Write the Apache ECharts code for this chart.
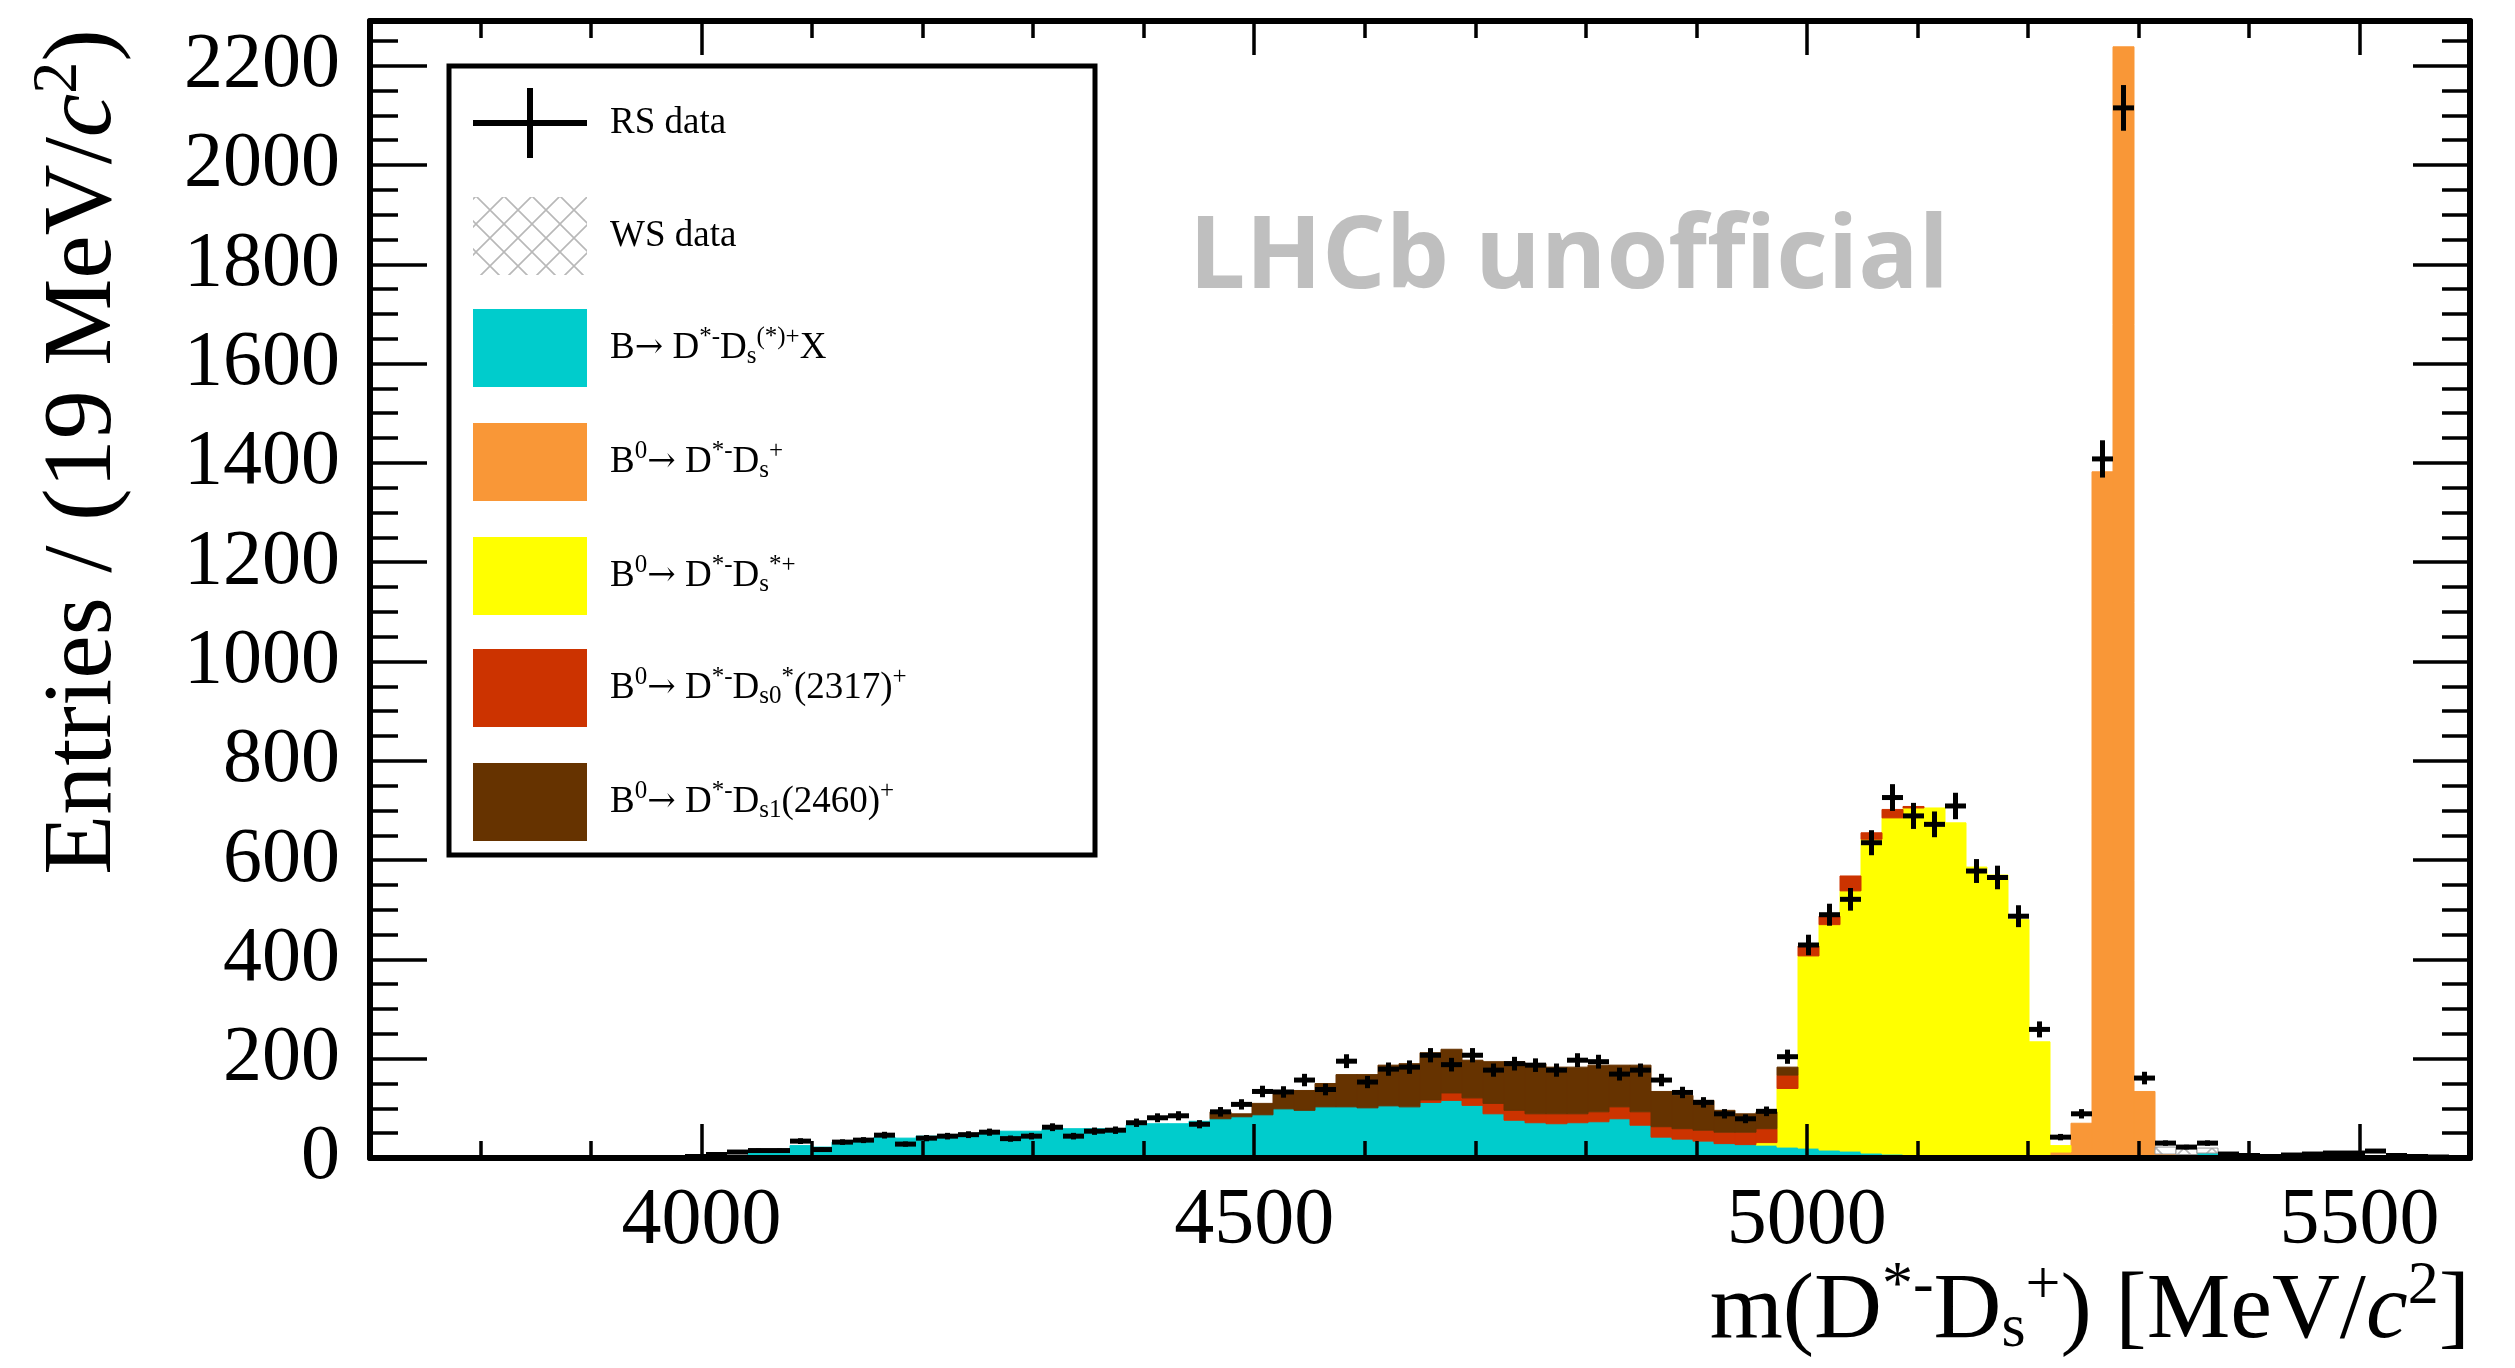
<!DOCTYPE html>
<html>
<head>
<meta charset="utf-8">
<title>m(D*- Ds+) mass spectrum</title>
<script src="https://cdn.jsdelivr.net/npm/echarts@6/dist/echarts.min.js"></script>
<style>
html,body{margin:0;padding:0;background:#fff;}
#chart{width:2515px;height:1368px;}
</style>
</head>
<body>
<div id="chart"></div>
<script>
// binning: 100 bins of 19 MeV from 3700 to 5600
var binLow = 3700, binWidth = 19, nBins = 100;
var yMax = 2290;

var xTickLabels = [4000, 4500, 5000, 5500];
var yTickLabels = [0, 200, 400, 600, 800, 1000, 1200, 1400, 1600, 1800, 2000, 2200];

// RS data, entries per bin
var rsData = [
  0, 0, 0, 0, 0, 0, 0, 0, 0, 0,
  0, 0, 0, 0, 0, 3, 7, 12, 15, 15,
  34, 17, 32, 36, 46, 28, 40, 44, 47, 52,
  39, 44, 62, 44, 54, 56, 71, 81, 85, 68,
  93, 108, 134, 133, 157, 138, 195, 153, 179, 183,
  207, 188, 207, 177, 190, 187, 177, 197, 194, 169,
  177, 157, 132, 112, 89, 79, 94, 204, 429, 490,
  521, 635, 726, 689, 672, 709, 578, 565, 487, 259,
  42, 89, 1408, 2115, 161, 30, 22, 30, 8, 5,
  3, 6, 8, 10, 10, 14, 5, 3, 2, 0
];
// B -> D*- Ds(*)+ X
var cyanBkg = [
  0, 0, 0, 0, 0, 0, 0, 0, 0, 0,
  0, 0, 0, 0, 0, 0, 0, 0, 9, 9,
  25, 22, 32, 35, 42, 40, 44, 44, 47, 52,
  54, 54, 58, 59, 59, 59, 66, 69, 69, 74,
  79, 83, 87, 99, 96, 103, 103, 101, 105, 103,
  112, 116, 106, 89, 76, 71, 69, 71, 73, 79,
  66, 42, 38, 34, 29, 27, 26, 22, 20, 16,
  14, 10, 8, 5, 3, 2, 1, 0, 0, 0,
  0, 0, 0, 0, 0, 0, 5, 10, 0, 0,
  0, 0, 0, 0, 0, 0, 0, 0, 0, 0
];
// B0 -> D*- Ds+
var orangeSig = [
  0, 0, 0, 0, 0, 0, 0, 0, 0, 0,
  0, 0, 0, 0, 0, 0, 0, 0, 0, 0,
  0, 0, 0, 0, 0, 0, 0, 0, 0, 0,
  0, 0, 0, 0, 0, 0, 0, 0, 0, 0,
  0, 0, 0, 0, 0, 0, 0, 0, 0, 0,
  0, 0, 0, 0, 0, 0, 0, 0, 0, 0,
  0, 0, 0, 0, 0, 0, 0, 0, 0, 0,
  0, 0, 0, 0, 0, 0, 0, 0, 0, 0,
  12, 70, 1382, 2238, 134, 8, 2, 0, 0, 0,
  0, 0, 0, 0, 0, 0, 0, 0, 0, 0
];
// B0 -> D*- Ds*+
var yellowBkg = [
  0, 0, 0, 0, 0, 0, 0, 0, 0, 0,
  0, 0, 0, 0, 0, 0, 0, 0, 0, 0,
  0, 0, 0, 0, 0, 0, 0, 0, 0, 0,
  0, 0, 0, 0, 0, 0, 0, 0, 0, 0,
  0, 0, 0, 0, 0, 0, 0, 0, 0, 0,
  0, 0, 0, 0, 0, 0, 0, 0, 0, 0,
  0, 0, 0, 0, 0, 0, 5, 118, 387, 454,
  524, 632, 677, 700, 702, 673, 585, 570, 480, 234,
  13, 0, 0, 0, 0, 0, 0, 0, 0, 0,
  0, 0, 0, 0, 0, 0, 0, 0, 0, 0
];
// B0 -> D*- Ds0*(2317)+
var redBkg = [
  0, 0, 0, 0, 0, 0, 0, 0, 0, 0,
  0, 0, 0, 0, 0, 0, 0, 0, 0, 0,
  0, 0, 0, 0, 0, 0, 0, 0, 0, 0,
  0, 0, 0, 0, 0, 0, 0, 0, 0, 0,
  0, 0, 0, 0, 0, 0, 0, 0, 0, 0,
  5, 15, 15, 21, 20, 18, 20, 18, 20, 24,
  27, 21, 21, 22, 23, 25, 28, 27, 20, 17,
  30, 13, 17, 3, 0, 0, 0, 0, 0, 0,
  0, 0, 0, 0, 0, 0, 0, 0, 0, 0,
  0, 0, 0, 0, 0, 0, 0, 0, 0, 0
];
// B0 -> D*- Ds1(2460)+
var brownBkg = [
  0, 0, 0, 0, 0, 0, 0, 0, 0, 0,
  0, 0, 0, 0, 0, 0, 0, 0, 0, 0,
  0, 0, 0, 0, 0, 0, 0, 0, 0, 0,
  0, 0, 0, 0, 0, 0, 0, 0, 0, 0,
  14, 6, 23, 34, 40, 47, 65, 67, 82, 87,
  95, 88, 76, 84, 98, 101, 94, 94, 94, 84,
  94, 71, 67, 60, 44, 37, 34, 16, 0, 0,
  0, 0, 0, 0, 0, 0, 0, 0, 0, 0,
  0, 0, 0, 0, 0, 0, 0, 0, 0, 0,
  0, 0, 0, 0, 0, 0, 0, 0, 0, 0
];
// WS data
var wsData = [
  0, 0, 0, 0, 0, 0, 0, 0, 0, 0,
  0, 0, 0, 0, 0, 0, 0, 0, 0, 0,
  0, 0, 0, 0, 0, 0, 0, 0, 0, 0,
  0, 0, 0, 0, 0, 0, 0, 0, 0, 0,
  0, 0, 0, 0, 0, 0, 0, 0, 0, 0,
  0, 0, 0, 0, 0, 0, 0, 0, 0, 0,
  0, 0, 0, 0, 0, 0, 0, 0, 0, 0,
  0, 0, 0, 0, 0, 0, 0, 0, 0, 0,
  0, 0, 0, 0, 0, 14, 12, 10, 4, 0,
  0, 0, 0, 0, 0, 0, 0, 0, 0, 0
];

var legendLabels = [
  'RS data',
  'WS data',
  'B{ar|→} D{sup|*-}D{sub|s}{sup|(*)+}X',
  'B{sup|0}{ar|→} D{sup|*-}D{sub|s}{sup|+}',
  'B{sup|0}{ar|→} D{sup|*-}D{sub|s}{sup|*+}',
  'B{sup|0}{ar|→} D{sup|*-}D{sub|s0}{sup|*}(2317){sup|+}',
  'B{sup|0}{ar|→} D{sup|*-}D{sub|s1}(2460){sup|+}'
];

var FONT = '"Liberation Serif", "Times New Roman", serif';
var colCyan = '#00CCCC', colOrange = '#F99737', colYellow = '#FFFF00',
    colRed = '#CC3300', colBrown = '#663300';

//crosshatch pattern for the WS component
function makeHatch(size){
  var c = document.createElement('canvas');
  c.width = size; c.height = size;
  var g = c.getContext('2d');
  g.fillStyle = '#fff';
  g.fillRect(0, 0, size, size);
  g.strokeStyle = '#b8b8b8';
  g.lineWidth = 1.6;
  g.beginPath();
  g.moveTo(0, 0); g.lineTo(size, size);
  g.moveTo(size, 0); g.lineTo(0, size);
  g.stroke();
  return c;
}
var hatchFill = {image: makeHatch(28), repeat: 'repeat'};

// stacked histogram pieces [xlow, xhigh, ybase, ytop]
var stackBase = [];
for (var i = 0; i < nBins; i++) stackBase.push(0);
function stackItems(values){
  var items = [];
  for (var i = 0; i < values.length; i++) {
    var x0 = binLow + i * binWidth;
    items.push([x0, x0 + binWidth, stackBase[i], stackBase[i] + values[i]]);
    stackBase[i] += values[i];
  }
  return items;
}
function dataItems(values){
  var items = [];
  for (var i = 0; i < values.length; i++) {
    var x0 = binLow + i * binWidth;
    items.push([x0, x0 + binWidth, values[i], Math.sqrt(values[i])]);
  }
  return items;
}

function renderBin(params, api){
  var y0 = api.value(2), y1 = api.value(3);
  if (!(y1 > y0)) return null;
  var a = api.coord([api.value(0), y1]);
  var b = api.coord([api.value(1), y0]);
  var cs = params.coordSys;
  var shape = echarts.graphic.clipRectByRect(
    {x: a[0], y: a[1], width: b[0] - a[0], height: b[1] - a[1]},
    {x: cs.x, y: cs.y, width: cs.width, height: cs.height});
  if (!shape) return null;
  var fill = api.visual('color');
  var style = {fill: fill, stroke: fill, lineWidth: 1};
  if (params.seriesName === 'WS data') style = {fill: hatchFill, stroke: '#999', lineWidth: 1};
  return {type: 'rect', shape: shape, style: style};
}

function renderData(params, api){
  var x0 = api.value(0), x1 = api.value(1), y = api.value(2), err = api.value(3);
  var xc = (x0 + x1) / 2;
  var l = api.coord([x0, y]), r = api.coord([x1, y]);
  var t = api.coord([xc, y + err]), b = api.coord([xc, Math.max(0, y - err)]);
  var st = {stroke: '#000', lineWidth: 5};
  return {type: 'group', children: [
    {type: 'line', shape: {x1: l[0], y1: l[1], x2: r[0], y2: r[1]}, style: st},
    {type: 'line', shape: {x1: t[0], y1: t[1], x2: b[0], y2: b[1]}, style: st}
  ]};
}

function histSeries(name, color, values){
  return {
    name: name, type: 'custom', renderItem: renderBin,
    itemStyle: {color: color},
    encode: {x: [0, 1], y: [2, 3]},
    data: stackItems(values)
  };
}

var xMinorTicks = [], yMinorTicks = [];
for (var v = binLow + 100; v < binLow + nBins * binWidth; v += 100) {
  if (v % 500 !== 0) xMinorTicks.push(v);
}
for (var w = 50; w < yMax; w += 50) {
  if (w % 200 !== 0) yMinorTicks.push(w);
}

function makeAxis(dim, pos, ticks, len, withLine, labels){
  return {
    type: 'value', position: pos, z: 10,
    min: dim === 'x' ? binLow : 0,
    max: dim === 'x' ? binLow + nBins * binWidth : yMax,
    axisLine: {show: withLine, onZero: false, lineStyle: {color: '#000', width: 6}},
    axisTick: {show: true, inside: true, length: len, customValues: ticks,
               lineStyle: {color: '#000', width: 3.5}},
    axisLabel: labels ? {
      show: true, customValues: labels, color: '#000', fontFamily: FONT,
      fontSize: dim === 'x' ? 80 : 78, margin: dim === 'x' ? 24 : 30,
      formatter: function(val){ return String(val); }
    } : {show: false},
    splitLine: {show: false}
  };
}

var supStyle = {fontFamily: FONT, fontSize: 25, fill: '#000', padding: [0, 0, 22, 0]};
var subStyle = {fontFamily: FONT, fontSize: 25, fill: '#000', padding: [16, 0, 0, 0]};
var legendRich = {
  sup: supStyle, sub: subStyle,
  ar: {fontFamily: '"DejaVu Serif", serif', fontSize: 34, fill: '#000'}
};

function legendText(label, yc){
  return {
    type: 'text', x: 610, y: yc, z: 20,
    style: {text: label, fontFamily: FONT, fontSize: 37, fill: '#000',
            align: 'left', verticalAlign: 'middle', textAlign: 'left', textVerticalAlign: 'middle',
            rich: legendRich}
  };
}
function legendSwatch(fill, yc){
  return {type: 'rect', z: 20, shape: {x: 473, y: yc - 39, width: 114, height: 78}, style: {fill: fill}};
}

var legendY = [123, 236, 348, 462, 576, 688, 802];
var legendFills = [null, hatchFill, colCyan, colOrange, colYellow, colRed, colBrown];

var graphicEls = [
  {type: 'rect', z: 19, shape: {x: 449, y: 66, width: 646, height: 789},
   style: {fill: '#fff', stroke: '#000', lineWidth: 5}},
  {type: 'line', z: 20, shape: {x1: 473, y1: legendY[0], x2: 587, y2: legendY[0]},
   style: {stroke: '#000', lineWidth: 6}},
  {type: 'line', z: 20, shape: {x1: 530, y1: legendY[0] - 35, x2: 530, y2: legendY[0] + 35},
   style: {stroke: '#000', lineWidth: 6}},
  {type: 'text', x: 1189, y: 260, z: 20,
   style: {text: 'LHCb unofficial', fontFamily: '"Open Sans", "Noto Sans", sans-serif',
           fontWeight: 'bold', fontSize: 100, fill: '#bfbfbf',
           align: 'left', verticalAlign: 'middle', textAlign: 'left', textVerticalAlign: 'middle'}},
  {type: 'text', x: 84, y: 29, rotation: Math.PI / 2, z: 20,
   style: {text: 'Entries / (19 MeV/{it|c}{sup|2})', fontFamily: FONT, fontSize: 98, fill: '#000',
           align: 'right', verticalAlign: 'middle', textAlign: 'right', textVerticalAlign: 'middle',
           rich: {
             it: {fontFamily: FONT, fontSize: 98, fontStyle: 'italic', fill: '#000'},
             sup: {fontFamily: FONT, fontSize: 64, fill: '#000', padding: [0, 0, 50, 0]}
           }}},
  {type: 'text', x: 2470, y: 1312, z: 20,
   style: {text: 'm(D{sup|*-}D{sub|s}{sup|+}) [MeV/{it|c}{sup|2}]', fontFamily: FONT, fontSize: 94,
           fill: '#000', align: 'right', verticalAlign: 'middle', textAlign: 'right', textVerticalAlign: 'middle',
           rich: {
             it: {fontFamily: FONT, fontSize: 94, fontStyle: 'italic', fill: '#000'},
             sup: {fontFamily: FONT, fontSize: 62, fill: '#000', padding: [0, 0, 50, 0]},
             sub: {fontFamily: FONT, fontSize: 62, fill: '#000', padding: [36, 0, 0, 0]}
           }}}
];
for (var k = 0; k < legendLabels.length; k++) {
  if (legendFills[k]) graphicEls.push(legendSwatch(legendFills[k], legendY[k]));
  graphicEls.push(legendText(legendLabels[k], legendY[k]));
}

var chart = echarts.init(document.getElementById('chart'));
chart.setOption({
  animation: false,
  backgroundColor: '#fff',
  grid: {left: 370, right: 45, top: 21, bottom: 210, containLabel: false, outerBoundsMode: 'none'},
  xAxis: [
    makeAxis('x', 'bottom', xTickLabels, 34, true, xTickLabels),
    makeAxis('x', 'bottom', xMinorTicks, 17, false, null),
    makeAxis('x', 'top', xTickLabels, 34, true, null),
    makeAxis('x', 'top', xMinorTicks, 17, false, null)
  ],
  yAxis: [
    makeAxis('y', 'left', yTickLabels, 57, true, yTickLabels),
    makeAxis('y', 'left', yMinorTicks, 28, false, null),
    makeAxis('y', 'right', yTickLabels, 57, true, null),
    makeAxis('y', 'right', yMinorTicks, 28, false, null)
  ],
  series: [
    histSeries('B→D*-Ds(*)+X', colCyan, cyanBkg),
    histSeries('B0→D*-Ds+', colOrange, orangeSig),
    histSeries('B0→D*-Ds*+', colYellow, yellowBkg),
    histSeries('B0→D*-Ds0*(2317)+', colRed, redBkg),
    histSeries('B0→D*-Ds1(2460)+', colBrown, brownBkg),
    histSeries('WS data', '#cccccc', wsData),
    {
      name: 'RS data', type: 'custom', renderItem: renderData,
      itemStyle: {color: '#000'}, encode: {x: [0, 1], y: 2},
      data: dataItems(rsData)
    }
  ],
  graphic: {elements: graphicEls}
});
</script>
</body>
</html>
